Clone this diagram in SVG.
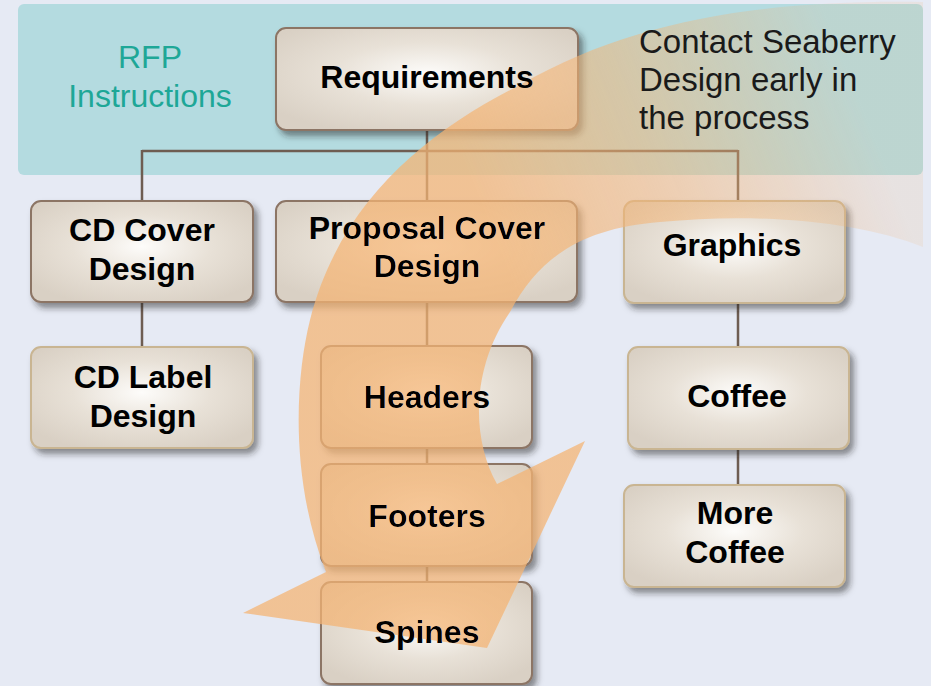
<svg xmlns="http://www.w3.org/2000/svg" width="931" height="686" viewBox="0 0 931 686">
<style>
.box{fill:url(#boxFill);stroke-width:2;filter:url(#shadow)}
.dark{stroke:#8c7565}
.tan{stroke:#c9b592}
.lbl{font-family:"Liberation Sans",Arial,sans-serif;font-weight:bold;font-size:32px;fill:#000;text-anchor:middle}
.conn{fill:none;stroke:#6e5d52;stroke-width:2.5}
.note{font-family:"Liberation Sans",Arial,sans-serif;font-size:33px;fill:#1a1a1a}
.rfp{font-family:"Liberation Sans",Arial,sans-serif;font-size:32px;fill:#1ea797;text-anchor:middle}
</style>
<defs>
<radialGradient id="boxFill" cx="0.5" cy="0.45" r="0.62">
<stop offset="0" stop-color="#fdfcfa"/>
<stop offset="0.5" stop-color="#e8e1d7"/>
<stop offset="1" stop-color="#d9d0c4"/>
</radialGradient>
<filter id="shadow" x="-10%" y="-10%" width="130%" height="140%">
<feDropShadow dx="4" dy="5" stdDeviation="3" flood-color="#222" flood-opacity="0.5"/>
</filter>
<linearGradient id="arrowGrad" gradientUnits="userSpaceOnUse" x1="400" y1="0" x2="762" y2="-145">
<stop offset="0" stop-color="#f4b474" stop-opacity="0.74"/>
<stop offset="0.45" stop-color="#f4b474" stop-opacity="0.52"/>
<stop offset="1" stop-color="#f4b474" stop-opacity="0.14"/>
</linearGradient>
<mask id="textHole" maskUnits="userSpaceOnUse" x="0" y="0" width="931" height="686">
<rect width="931" height="686" fill="#fff"/>
<use href="#t-req"/>
<use href="#t-proposal"/>
<use href="#t-graphics"/>
<use href="#t-headers"/>
<use href="#t-footers"/>
<use href="#t-spines"/>
</mask>
</defs>

<rect width="931" height="686" fill="#e6eaf4"/>
<rect x="18" y="4" width="905" height="171" rx="6" fill="#b4dbe0"/>

<g id="connectors">
<path class="conn" d="M427 130 V201 M142 151 H738 M142 150 V201 M738 150 V201 M142 302 V347 M427 302 V346 M427 448 V464 M427 566 V582 M738 303 V347 M738 449 V485"/>
</g>

<g id="n-req">
<rect class="box dark" x="276" y="28" width="302" height="102" rx="10"/>
<text id="t-req" class="lbl" x="427" y="88">Requirements</text>
</g>
<g id="n-cdcover">
<rect class="box dark" x="31" y="201" width="222" height="101" rx="10"/>
<text class="lbl" x="142"><tspan x="142" y="241">CD Cover</tspan><tspan x="142" y="280">Design</tspan></text>
</g>
<g id="n-proposal">
<rect class="box dark" x="276" y="201" width="301" height="101" rx="10"/>
<text id="t-proposal" class="lbl" x="427"><tspan x="427" y="239">Proposal Cover</tspan><tspan x="427" y="277">Design</tspan></text>
</g>
<g id="n-graphics">
<rect class="box tan" x="624" y="201" width="221" height="102" rx="10"/>
<text id="t-graphics" class="lbl" x="732" y="256">Graphics</text>
</g>
<g id="n-cdlabel">
<rect class="box tan" x="31" y="347" width="222" height="101" rx="10"/>
<text class="lbl" x="143"><tspan x="143" y="388">CD Label</tspan><tspan x="143" y="427">Design</tspan></text>
</g>
<g id="n-headers">
<rect class="box dark" x="321" y="346" width="211" height="102" rx="10"/>
<text id="t-headers" class="lbl" x="427" y="408">Headers</text>
</g>
<g id="n-footers">
<rect class="box dark" x="321" y="464" width="211" height="102" rx="10"/>
<text id="t-footers" class="lbl" x="427" y="527">Footers</text>
</g>
<g id="n-spines">
<rect class="box dark" x="321" y="582" width="211" height="102" rx="10"/>
<text id="t-spines" class="lbl" x="427" y="643">Spines</text>
</g>
<g id="n-coffee">
<rect class="box tan" x="628" y="347" width="221" height="102" rx="10"/>
<text class="lbl" x="737" y="407">Coffee</text>
</g>
<g id="n-more">
<rect class="box tan" x="624" y="485" width="221" height="102" rx="10"/>
<text class="lbl" x="735"><tspan x="735" y="524">More</tspan><tspan x="735" y="563">Coffee</tspan></text>
</g>

<g id="arrow" mask="url(#textHole)">
<path fill="url(#arrowGrad)" d="M923 2 C780 0 640 15 520 85 C430 130 340 200 310 320 C295 380 290 480 326 572 L243 613 L487 648 L585 441 L497 484 C472 440 470 370 510 312 C540 255 585 228 660 222 C760 212 860 222 923 247 Z"/>
</g>

<g id="rfp">
<text class="rfp" x="150" y="68">RFP</text>
<text class="rfp" x="150" y="107">Instructions</text>
</g>
<g id="note">
<text class="note" x="639" y="53">Contact Seaberry</text>
<text class="note" x="639" y="91">Design early in</text>
<text class="note" x="639" y="129">the process</text>
</g>
</svg>
